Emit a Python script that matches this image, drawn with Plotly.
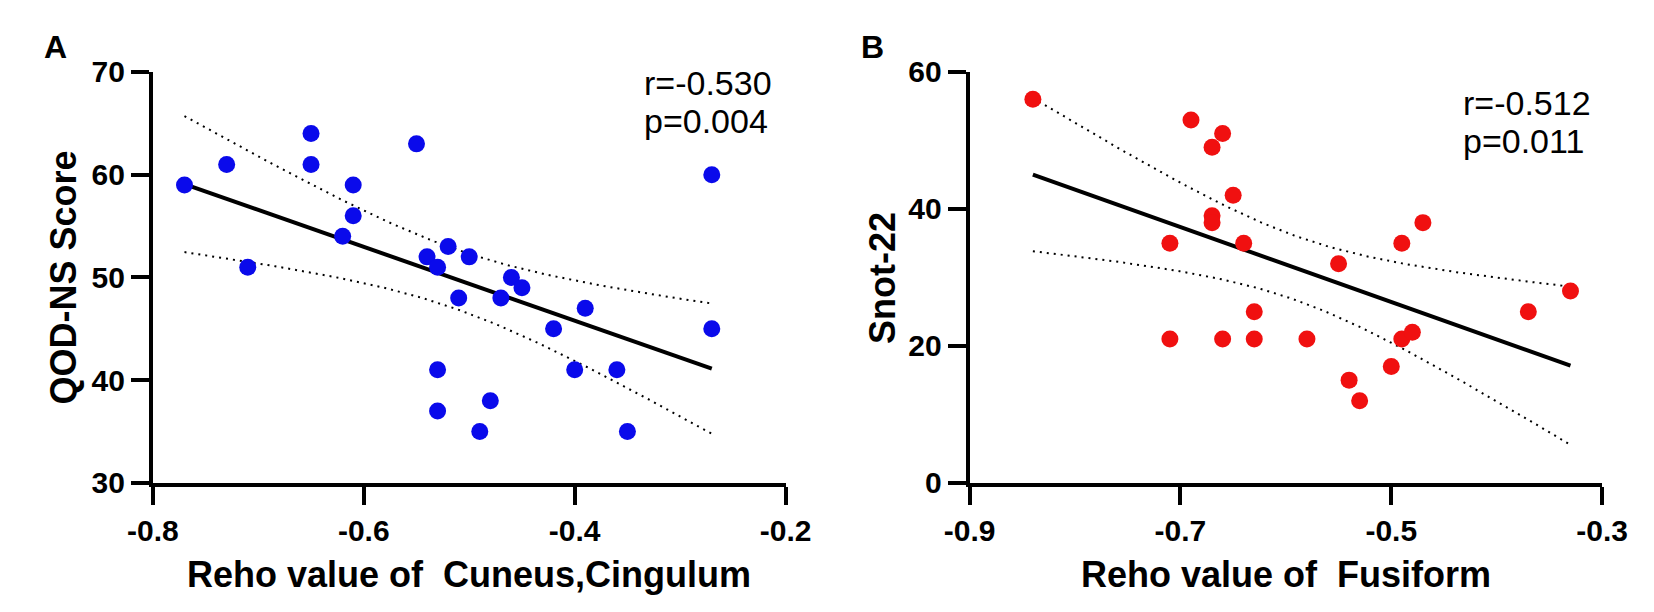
import math
import numpy as np
import plotly.graph_objects as go

# ---------------- data ----------------
# Panel A: Reho value of Cuneus,Cingulum vs QOD-NS Score
xA = [-0.77, -0.73, -0.65, -0.65, -0.55, -0.61, -0.61, -0.62, -0.71, -0.52,
      -0.54, -0.53, -0.50, -0.51, -0.46, -0.45, -0.47, -0.53, -0.53, -0.48,
      -0.49, -0.27, -0.39, -0.42, -0.27, -0.40, -0.36, -0.35]
yA = [59, 61, 64, 61, 63, 59, 56, 54, 51, 53,
      52, 51, 52, 48, 50, 49, 48, 41, 37, 38,
      35, 60, 47, 45, 45, 41, 41, 35]

# Panel B: Reho value of Fusiform vs Snot-22
xB = [-0.84, -0.69, -0.66, -0.67, -0.65, -0.67, -0.67, -0.71, -0.64, -0.63,
      -0.71, -0.66, -0.63, -0.47, -0.49, -0.55, -0.33, -0.37, -0.58, -0.49,
      -0.48, -0.50, -0.54, -0.53]
yB = [56, 53, 51, 49, 42, 39, 38, 35, 35, 25,
      21, 21, 21, 38, 35, 32, 28, 25, 21, 21,
      22, 17, 15, 12]

statsA = ["r=-0.530", "p=0.004"]
statsB = ["r=-0.512", "p=0.011"]

xticksA = [-0.8, -0.6, -0.4, -0.2]
xticktextA = ["-0.8", "-0.6", "-0.4", "-0.2"]
yticksA = [30, 40, 50, 60, 70]
xticksB = [-0.9, -0.7, -0.5, -0.3]
xticktextB = ["-0.9", "-0.7", "-0.5", "-0.3"]
yticksB = [0, 20, 40, 60]

titleXA = "Reho value of\u00a0 Cuneus,Cingulum"
titleYA = "QOD-NS Score"
titleXB = "Reho value of\u00a0 Fusiform"
titleYB = "Snot-22"


# ---------------- statistics ----------------
def t_crit(df, conf=0.95):
    c = math.exp(math.lgamma((df + 1) / 2) - math.lgamma(df / 2)) / math.sqrt(df * math.pi)
    t = np.linspace(0, 10, 200001)
    pdf = c * (1 + t * t / df) ** (-(df + 1) / 2)
    cdf = 0.5 + np.concatenate([[0], np.cumsum((pdf[1:] + pdf[:-1]) / 2 * np.diff(t))])
    return float(np.interp((1 + conf) / 2, cdf, t))


def fit(x, y):
    x = np.asarray(x, float)
    y = np.asarray(y, float)
    n = len(x)
    b, a = np.polyfit(x, y, 1)
    res = y - (a + b * x)
    s = math.sqrt((res ** 2).sum() / (n - 2))
    xm = x.mean()
    sxx = ((x - xm) ** 2).sum()
    xs = np.linspace(x.min(), x.max(), 100)
    yh = a + b * xs
    hw = t_crit(n - 2) * s * np.sqrt(1 / n + (xs - xm) ** 2 / sxx)
    return xs, yh, yh - hw, yh + hw


W, H = 1654, 612
FONT = "Liberation Sans, Arial, Helvetica, sans-serif"


def px(v):
    return v / W


def py(v):
    return (H - v) / H


fig = go.Figure()

panels = [
    (xA, yA, "#0a0aeb", "x", "y"),
    (xB, yB, "#f01010", "x2", "y2"),
]
for xs_, ys_, col, xa, ya in panels:
    xs, yh, lo, hi = fit(xs_, ys_)
    for band in (lo, hi):
        fig.add_trace(go.Scatter(x=xs, y=band, mode="lines", xaxis=xa, yaxis=ya,
                                 line=dict(color="black", width=2, dash="2px,5px"),
                                 hoverinfo="skip", showlegend=False))
    fig.add_trace(go.Scatter(x=xs, y=yh, mode="lines", xaxis=xa, yaxis=ya,
                             line=dict(color="black", width=4),
                             hoverinfo="skip", showlegend=False))
    fig.add_trace(go.Scatter(x=xs_, y=ys_, mode="markers", xaxis=xa, yaxis=ya,
                             marker=dict(color=col, size=17, line=dict(width=0)),
                             cliponaxis=False, showlegend=False))

axis_common = dict(showline=True, linecolor="black", linewidth=4, ticks="outside",
                   ticklen=18, tickwidth=4, tickcolor="black", showgrid=False,
                   zeroline=False,
                   tickfont=dict(family=FONT, size=30, color="black", weight="bold"))

ydom = [py(485), py(50.7)]
fig.update_layout(
    width=W, height=H, margin=dict(l=0, r=0, t=0, b=0),
    paper_bgcolor="white", plot_bgcolor="white", showlegend=False,
    xaxis=dict(domain=[px(122.7), px(776)], range=[-0.8, -0.2], tickvals=xticksA,
               ticktext=xticktextA, anchor="y", **axis_common),
    yaxis=dict(domain=ydom, range=[30, 70], tickvals=yticksA, anchor="x", **axis_common),
    xaxis2=dict(domain=[px(966), px(1619)], range=[-0.9, -0.3], tickvals=xticksB,
                ticktext=xticktextB, anchor="y2", **axis_common),
    yaxis2=dict(domain=ydom, range=[0, 60], tickvals=yticksB, anchor="x2", **axis_common),
)

ann = []
tf = dict(family=FONT, size=36, color="black", weight="bold")
ann.append(dict(text=titleXA, x=px(449), y=py(582), xref="paper", yref="paper",
                xanchor="center", yanchor="middle", showarrow=False, font=tf))
ann.append(dict(text=titleXB, x=px(1292.5), y=py(582), xref="paper", yref="paper",
                xanchor="center", yanchor="middle", showarrow=False, font=tf))
ann.append(dict(text=titleYA, x=px(30), y=py(268), xref="paper", yref="paper",
                xanchor="center", yanchor="middle", textangle=-90, showarrow=False, font=tf))
ann.append(dict(text=titleYB, x=px(876), y=py(268), xref="paper", yref="paper",
                xanchor="center", yanchor="middle", textangle=-90, showarrow=False, font=tf))
lf = dict(family=FONT, size=32, color="black", weight="bold")
ann.append(dict(text="A", x=px(22), y=py(24), xref="paper", yref="paper",
                xanchor="center", yanchor="middle", showarrow=False, font=lf))
ann.append(dict(text="B", x=px(866), y=py(24), xref="paper", yref="paper",
                xanchor="center", yanchor="middle", showarrow=False, font=lf))
sf = dict(family=FONT, size=34, color="black")
for txt, yy in zip(statsA, [62.5, 103]):
    ann.append(dict(text=txt, x=px(628), y=py(yy), xref="paper", yref="paper",
                    xanchor="left", yanchor="middle", showarrow=False, font=sf))
for txt, yy in zip(statsB, [84, 124]):
    ann.append(dict(text=txt, x=px(1473), y=py(yy), xref="paper", yref="paper",
                    xanchor="left", yanchor="middle", showarrow=False, font=sf))
fig.update_layout(annotations=ann)

fig.write_html("out.html")
